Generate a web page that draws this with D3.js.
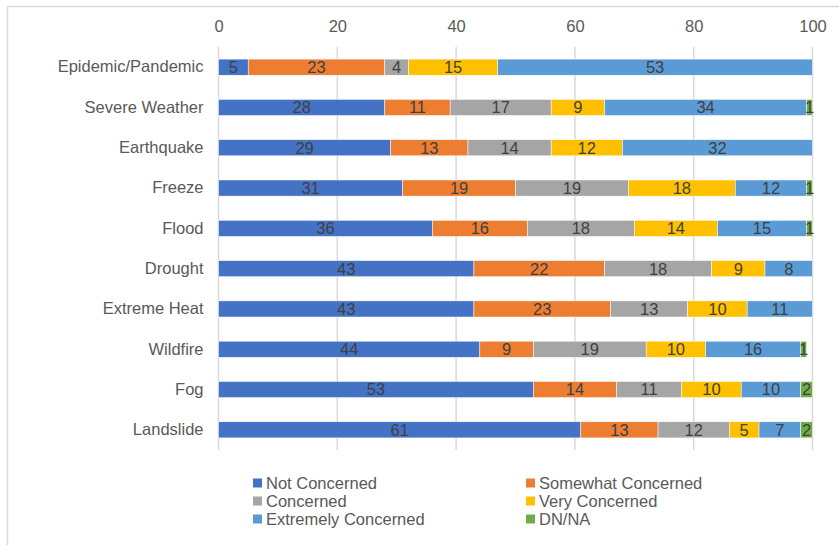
<!DOCTYPE html>
<html>
<head>
<meta charset="utf-8">
<script src="https://cdn.jsdelivr.net/npm/d3@7"></script>
<style>
  body { margin: 0; background: #fff; }
  svg { display: block; font-family: "Liberation Sans", Arial, sans-serif; }
</style>
</head>
<body>
<div id="chart"></div>
<script>
// categories (top to bottom)
const hazards = ["Epidemic/Pandemic", "Severe Weather", "Earthquake", "Freeze", "Flood",
  "Drought", "Extreme Heat", "Wildfire", "Fog", "Landslide"];

// series, one array per concern level (same order as hazards)
const notConcerned      = [5, 28, 29, 31, 36, 43, 43, 44, 53, 61];
const somewhatConcerned = [23, 11, 13, 19, 16, 22, 23, 9, 14, 13];
const concerned         = [4, 17, 14, 19, 18, 18, 13, 19, 11, 12];
const veryConcerned     = [15, 9, 12, 18, 14, 9, 10, 10, 10, 5];
const extremelyConcerned = [53, 34, 32, 12, 15, 8, 11, 16, 10, 7];
const dnNa              = [0, 1, 0, 1, 1, 0, 0, 1, 2, 2];

const seriesNames = ["Not Concerned", "Somewhat Concerned", "Concerned",
  "Very Concerned", "Extremely Concerned", "DN/NA"];
const seriesValues = [notConcerned, somewhatConcerned, concerned,
  veryConcerned, extremelyConcerned, dnNa];
const colors = ["#4472C4", "#ED7D31", "#A5A5A5", "#FFC000", "#5B9BD5", "#70AD47"];

const xTicks = [0, 20, 40, 60, 80, 100];

// build rows for d3.stack
var rows = hazards.map(function(h, i) {
  var r = { hazard: h };
  seriesNames.forEach(function(s, j) { r[s] = seriesValues[j][i]; });
  return r;
});

var W = 839, H = 545;
var margin = { top: 47, right: 26, bottom: 95, left: 218.5 };
var fs = "16.5px";

var svg = d3.select("#chart").append("svg")
  .attr("width", W)
  .attr("height", H);

// outer frame (top + left edges visible)
svg.append("line").attr("x1", 7.5).attr("x2", W).attr("y1", 6.5).attr("y2", 6.5)
  .attr("stroke", "#d9d9d9").attr("stroke-width", 1.5);
svg.append("line").attr("x1", 7.5).attr("x2", 7.5).attr("y1", 6.5).attr("y2", H)
  .attr("stroke", "#d9d9d9").attr("stroke-width", 1.5);

var x = d3.scaleLinear()
  .domain([0, 100])
  .range([margin.left, 812.5]);

var y = d3.scaleBand()
  .domain(hazards)
  .range([margin.top, 450])
  .paddingInner(0.6)
  .paddingOuter(0.3);

// gridlines
svg.append("g")
  .selectAll("line")
  .data(xTicks)
  .enter()
  .append("line")
    .attr("x1", function(d) { return x(d); })
    .attr("x2", function(d) { return x(d); })
    .attr("y1", margin.top)
    .attr("y2", 450)
    .attr("stroke", "#d9d9d9")
    .attr("stroke-width", 1.5);

// top axis labels
var xAxis = svg.append("g")
  .attr("transform", "translate(0," + 36 + ")")
  .call(d3.axisTop(x).tickValues(xTicks).tickSize(0).tickPadding(4));
xAxis.select(".domain").remove();
xAxis.selectAll("text")
  .attr("fill", "#595959")
  .style("font-size", fs);

// left category labels
var yAxis = svg.append("g")
  .attr("transform", "translate(" + (margin.left - 15) + ",0)")
  .call(d3.axisLeft(y).tickSize(0).tickPadding(0));
yAxis.select(".domain").remove();
yAxis.selectAll("text")
  .attr("fill", "#595959")
  .style("font-size", fs);

var stack = d3.stack().keys(seriesNames);
var layers = stack(rows);

var layer = svg.append("g")
  .selectAll("g")
  .data(layers)
  .enter()
  .append("g")
    .attr("fill", function(d, i) { return colors[i]; });

layer.selectAll("rect")
  .data(function(d) { return d; })
  .enter()
  .append("rect")
    .attr("x", function(d) { return x(d[0]); })
    .attr("y", function(d) { return y(d.data.hazard); })
    .attr("width", function(d) { return x(d[1]) - x(d[0]); })
    .attr("height", y.bandwidth())
    .attr("stroke", "#fff")
    .attr("stroke-width", function(d) { return d[1] > d[0] ? 0.5 : 0; });

// data labels
layer.selectAll("text")
  .data(function(d) { return d.filter(function(p) { return p[1] - p[0] > 0; }); })
  .enter()
  .append("text")
    .attr("x", function(d) { return (x(d[0]) + x(d[1])) / 2; })
    .attr("y", function(d) { return y(d.data.hazard) + y.bandwidth() / 2; })
    .attr("dy", "0.36em")
    .attr("text-anchor", "middle")
    .attr("fill", "#404040")
    .style("font-size", fs)
    .text(function(d) { return d[1] - d[0]; });

// legend, two columns
var legend = svg.append("g")
  .selectAll("g")
  .data(seriesNames)
  .enter()
  .append("g")
    .attr("transform", function(d, i) {
      var col = i % 2, row = Math.floor(i / 2);
      return "translate(" + (col === 0 ? 253 : 526) + "," + (483 + row * 18) + ")";
    });

legend.append("rect")
  .attr("x", 0)
  .attr("y", -4.5)
  .attr("width", 9)
  .attr("height", 9)
  .attr("fill", function(d, i) { return colors[i]; });

legend.append("text")
  .attr("x", 13)
  .attr("y", 0)
  .attr("dy", "0.36em")
  .attr("fill", "#595959")
  .style("font-size", fs)
  .text(function(d) { return d; });
</script>
</body>
</html>
